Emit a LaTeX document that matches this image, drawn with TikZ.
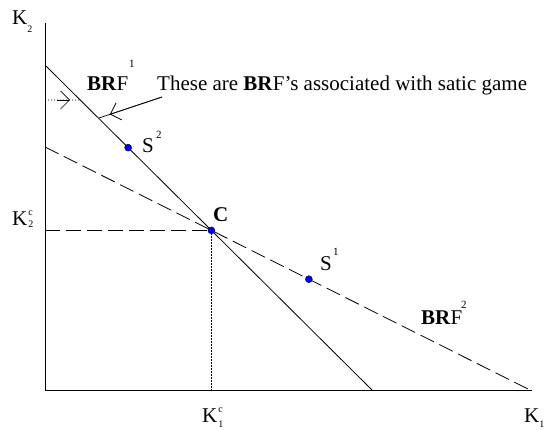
\documentclass[tikz,border=0pt]{standalone}
\usepackage{fontspec}
\setmainfont{Liberation Serif}
\usetikzlibrary{calc,arrows.meta}
\newcommand{\scr}[2]{\raisebox{#1}{\fontsize{10}{10}\selectfont #2}}
\tikzset{
  lbl/.style={inner sep=0pt, font=\fontsize{21}{24}\selectfont},
  sml/.style={inner sep=0pt, font=\fontsize{11}{12}\selectfont},
  tiny/.style={inner sep=0pt, font=\fontsize{10}{10}\selectfont},
  ax/.style={line width=0.9pt},
  brfone/.style={line width=0.8pt},
  brftwo/.style={line width=0.8pt, dash pattern=on 15pt off 6pt},
  guide/.style={line width=0.8pt, dash pattern=on 15pt off 6pt},
  dots/.style={line width=0.7pt, dash pattern=on 1.2pt off 1.8pt},
  pt/.style={circle, fill=blue, draw=black, line width=0.4pt, inner sep=0pt, minimum size=7pt},
  barb/.style={-{Straight Barb[length=9pt,width=18pt,line width=0.7pt]}, line width=0.7pt}
}
\begin{document}
\begin{tikzpicture}[x=1pt,y=-1pt]
\useasboundingbox (0,0) rectangle (544,430);
% axes
\coordinate (O) at (45,390);
\coordinate (Ytop) at (45,23);
\coordinate (Xend) at (532,390);
\draw[ax] (Ytop) -- (O) -- (Xend);
% best response lines
\coordinate (A1) at (46,66);
\coordinate (B1) at (372,390);
\coordinate (A2) at (45,147);
\coordinate (B2) at (530,390);
\draw[brfone] (A1) -- (B1);
\draw[brftwo] (A2) -- (B2);
\coordinate (C) at (intersection of A1--B1 and A2--B2);
\coordinate (Cy) at (O |- C);
\coordinate (Cx) at (C |- O);
\draw[guide] (Cy) -- (C);
\draw[dots] (C) -- (Cx);
% dotted arrow at top
\coordinate (D0) at (45,100);
\coordinate (D1) at (intersection of A1--B1 and D0--{$(D0)+(100,0)$});
\draw[dots] (D0) -- (D1);
\draw[barb] ($(D0)+(12,0)$) -- ($(D0)+(25,0)$);
% points
\node[pt] (S2) at ($(A1)!0.252!(B1)$) {};
\node[pt] (S1) at ($(A2)!0.544!(B2)$) {};
\node[pt] (Cpt) at (C) {};
% annotation
\node[lbl, anchor=base west] (ann) at (157,91) {These are \textbf{BR}F's associated with satic game};
\coordinate (annS) at (162,97);
\coordinate (annT) at (intersection of A1--B1 and annS--{$(annS)+(-60,20)$});
\draw[line width=0.7pt] (annS) -- (annT);
\draw[barb] (annS) -- ($(annS)!0.82!(annT)$);
% labels
\node[lbl, anchor=base west] (brf1) at (87,91) {\textbf{BR}F};
\node[sml, anchor=base west] (brf1s) at (129,68) {1};
\node[lbl, anchor=base west] (brf2) at (421,325) {\textbf{BR}F};
\node[sml, anchor=base west] (brf2s) at (461,309) {2};
\node[lbl, anchor=base west] (s2l) at (142,153) {S};
\node[sml, anchor=base west] (s2s) at (156,139) {2};
\node[lbl, anchor=base west] (s1l) at (320,271) {S};
\node[sml, anchor=base west] (s1s) at (333,256) {1};
\node[lbl, anchor=base west] (cl) at (213,222) {\textbf{C}};
\node[lbl, anchor=base west] (k2) at (12,25) {K\scr{-8pt}{2}};
% K_2^c
\node[lbl, anchor=base west] (k2c) at (12,226) {K};
\node[tiny, anchor=base west] (k2cs) at ($(k2c.base east)+(0.5,-10)$) {c};
\node[tiny, anchor=base west] (k2cb) at ($(k2c.base east)+(0.5,1.5)$) {2};
% K_1^c
\node[lbl, anchor=base west] (k1c) at (202,423) {K};
\node[tiny, anchor=base west] (k1cs) at ($(k1c.base east)+(0.5,-10)$) {c};
\node[tiny, anchor=base west] (k1cb) at ($(k1c.base east)+(0.5,5)$) {1};
\node[lbl, anchor=base west] (k1) at (524,423) {K\scr{-5pt}{1}};
\end{tikzpicture}
\end{document}
